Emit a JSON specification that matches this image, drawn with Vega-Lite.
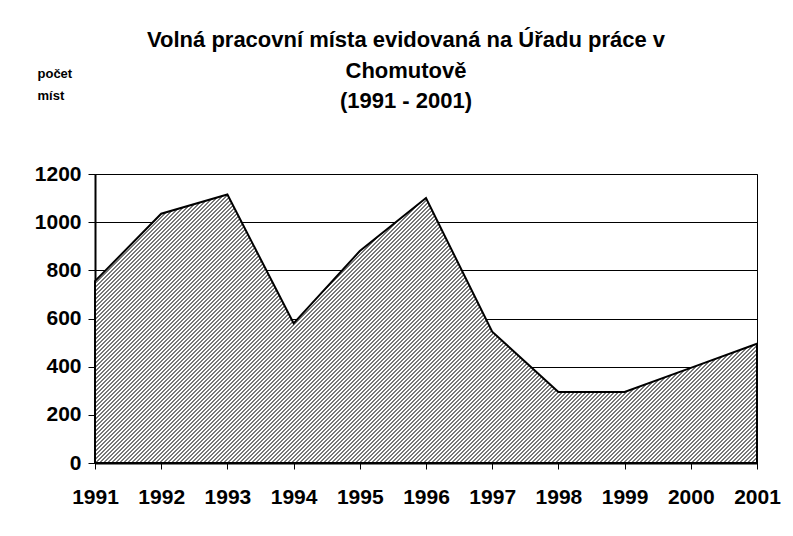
{
"$schema":"https://vega.github.io/schema/vega-lite/v6.json",
"width":662,"height":289,
"autosize":"none",
"padding":{"left":95,"top":174,"right":36,"bottom":73},
"background":"white",
"config":{"font":"Liberation Sans","view":{"stroke":"#000","strokeWidth":1}},
"title":{"text":["Volná pracovní místa evidovaná na Úřadu práce v","Chomutově","(1991 -  2001)"],"font":"Liberation Sans","fontSize":22,"fontWeight":"bold","color":"#000","lineHeight":30.5,"anchor":"middle","frame":"group","baseline":"alphabetic","dx":-20,"dy":67},
"data":{"values":[
{"year":"1991","count":755},
{"year":"1992","count":1035},
{"year":"1993","count":1115},
{"year":"1994","count":580},
{"year":"1995","count":880},
{"year":"1996","count":1100},
{"year":"1997","count":545},
{"year":"1998","count":295},
{"year":"1999","count":295},
{"year":"2000","count":395},
{"year":"2001","count":495}
]},
"mark":{"type":"area","stroke":"#000","strokeWidth":2,"strokeJoin":"miter","fill":{"gradient":"linear","x1":0,"y1":0,"x2":1.29714,"y2":0.526163,"stops":[
{"offset":0,"color":"#777"},
{"offset":0.002,"color":"#777"},{"offset":0.002,"color":"#fff"},{"offset":0.004,"color":"#fff"},{"offset":0.004,"color":"#777"},{"offset":0.006,"color":"#777"},{"offset":0.006,"color":"#fff"},{"offset":0.008,"color":"#fff"},{"offset":0.008,"color":"#777"},{"offset":0.010,"color":"#777"},{"offset":0.010,"color":"#fff"},{"offset":0.012,"color":"#fff"},{"offset":0.012,"color":"#777"},{"offset":0.014,"color":"#777"},{"offset":0.014,"color":"#fff"},{"offset":0.016,"color":"#fff"},{"offset":0.016,"color":"#777"},{"offset":0.018,"color":"#777"},{"offset":0.018,"color":"#fff"},{"offset":0.020,"color":"#fff"},{"offset":0.020,"color":"#777"},
{"offset":0.022,"color":"#777"},{"offset":0.022,"color":"#fff"},{"offset":0.024,"color":"#fff"},{"offset":0.024,"color":"#777"},{"offset":0.026,"color":"#777"},{"offset":0.026,"color":"#fff"},{"offset":0.028,"color":"#fff"},{"offset":0.028,"color":"#777"},{"offset":0.030,"color":"#777"},{"offset":0.030,"color":"#fff"},{"offset":0.032,"color":"#fff"},{"offset":0.032,"color":"#777"},{"offset":0.034,"color":"#777"},{"offset":0.034,"color":"#fff"},{"offset":0.036,"color":"#fff"},{"offset":0.036,"color":"#777"},{"offset":0.038,"color":"#777"},{"offset":0.038,"color":"#fff"},{"offset":0.040,"color":"#fff"},{"offset":0.040,"color":"#777"},
{"offset":0.042,"color":"#777"},{"offset":0.042,"color":"#fff"},{"offset":0.044,"color":"#fff"},{"offset":0.044,"color":"#777"},{"offset":0.046,"color":"#777"},{"offset":0.046,"color":"#fff"},{"offset":0.048,"color":"#fff"},{"offset":0.048,"color":"#777"},{"offset":0.050,"color":"#777"},{"offset":0.050,"color":"#fff"},{"offset":0.052,"color":"#fff"},{"offset":0.052,"color":"#777"},{"offset":0.054,"color":"#777"},{"offset":0.054,"color":"#fff"},{"offset":0.056,"color":"#fff"},{"offset":0.056,"color":"#777"},{"offset":0.058,"color":"#777"},{"offset":0.058,"color":"#fff"},{"offset":0.060,"color":"#fff"},{"offset":0.060,"color":"#777"},
{"offset":0.062,"color":"#777"},{"offset":0.062,"color":"#fff"},{"offset":0.064,"color":"#fff"},{"offset":0.064,"color":"#777"},{"offset":0.066,"color":"#777"},{"offset":0.066,"color":"#fff"},{"offset":0.068,"color":"#fff"},{"offset":0.068,"color":"#777"},{"offset":0.070,"color":"#777"},{"offset":0.070,"color":"#fff"},{"offset":0.072,"color":"#fff"},{"offset":0.072,"color":"#777"},{"offset":0.074,"color":"#777"},{"offset":0.074,"color":"#fff"},{"offset":0.076,"color":"#fff"},{"offset":0.076,"color":"#777"},{"offset":0.078,"color":"#777"},{"offset":0.078,"color":"#fff"},{"offset":0.080,"color":"#fff"},{"offset":0.080,"color":"#777"},
{"offset":0.082,"color":"#777"},{"offset":0.082,"color":"#fff"},{"offset":0.084,"color":"#fff"},{"offset":0.084,"color":"#777"},{"offset":0.086,"color":"#777"},{"offset":0.086,"color":"#fff"},{"offset":0.088,"color":"#fff"},{"offset":0.088,"color":"#777"},{"offset":0.090,"color":"#777"},{"offset":0.090,"color":"#fff"},{"offset":0.092,"color":"#fff"},{"offset":0.092,"color":"#777"},{"offset":0.094,"color":"#777"},{"offset":0.094,"color":"#fff"},{"offset":0.096,"color":"#fff"},{"offset":0.096,"color":"#777"},{"offset":0.098,"color":"#777"},{"offset":0.098,"color":"#fff"},{"offset":0.100,"color":"#fff"},{"offset":0.100,"color":"#777"},
{"offset":0.102,"color":"#777"},{"offset":0.102,"color":"#fff"},{"offset":0.104,"color":"#fff"},{"offset":0.104,"color":"#777"},{"offset":0.106,"color":"#777"},{"offset":0.106,"color":"#fff"},{"offset":0.108,"color":"#fff"},{"offset":0.108,"color":"#777"},{"offset":0.110,"color":"#777"},{"offset":0.110,"color":"#fff"},{"offset":0.112,"color":"#fff"},{"offset":0.112,"color":"#777"},{"offset":0.114,"color":"#777"},{"offset":0.114,"color":"#fff"},{"offset":0.116,"color":"#fff"},{"offset":0.116,"color":"#777"},{"offset":0.118,"color":"#777"},{"offset":0.118,"color":"#fff"},{"offset":0.120,"color":"#fff"},{"offset":0.120,"color":"#777"},
{"offset":0.122,"color":"#777"},{"offset":0.122,"color":"#fff"},{"offset":0.124,"color":"#fff"},{"offset":0.124,"color":"#777"},{"offset":0.126,"color":"#777"},{"offset":0.126,"color":"#fff"},{"offset":0.128,"color":"#fff"},{"offset":0.128,"color":"#777"},{"offset":0.130,"color":"#777"},{"offset":0.130,"color":"#fff"},{"offset":0.132,"color":"#fff"},{"offset":0.132,"color":"#777"},{"offset":0.134,"color":"#777"},{"offset":0.134,"color":"#fff"},{"offset":0.136,"color":"#fff"},{"offset":0.136,"color":"#777"},{"offset":0.138,"color":"#777"},{"offset":0.138,"color":"#fff"},{"offset":0.140,"color":"#fff"},{"offset":0.140,"color":"#777"},
{"offset":0.142,"color":"#777"},{"offset":0.142,"color":"#fff"},{"offset":0.144,"color":"#fff"},{"offset":0.144,"color":"#777"},{"offset":0.146,"color":"#777"},{"offset":0.146,"color":"#fff"},{"offset":0.148,"color":"#fff"},{"offset":0.148,"color":"#777"},{"offset":0.150,"color":"#777"},{"offset":0.150,"color":"#fff"},{"offset":0.152,"color":"#fff"},{"offset":0.152,"color":"#777"},{"offset":0.154,"color":"#777"},{"offset":0.154,"color":"#fff"},{"offset":0.156,"color":"#fff"},{"offset":0.156,"color":"#777"},{"offset":0.158,"color":"#777"},{"offset":0.158,"color":"#fff"},{"offset":0.160,"color":"#fff"},{"offset":0.160,"color":"#777"},
{"offset":0.162,"color":"#777"},{"offset":0.162,"color":"#fff"},{"offset":0.164,"color":"#fff"},{"offset":0.164,"color":"#777"},{"offset":0.166,"color":"#777"},{"offset":0.166,"color":"#fff"},{"offset":0.168,"color":"#fff"},{"offset":0.168,"color":"#777"},{"offset":0.170,"color":"#777"},{"offset":0.170,"color":"#fff"},{"offset":0.172,"color":"#fff"},{"offset":0.172,"color":"#777"},{"offset":0.174,"color":"#777"},{"offset":0.174,"color":"#fff"},{"offset":0.176,"color":"#fff"},{"offset":0.176,"color":"#777"},{"offset":0.178,"color":"#777"},{"offset":0.178,"color":"#fff"},{"offset":0.180,"color":"#fff"},{"offset":0.180,"color":"#777"},
{"offset":0.182,"color":"#777"},{"offset":0.182,"color":"#fff"},{"offset":0.184,"color":"#fff"},{"offset":0.184,"color":"#777"},{"offset":0.186,"color":"#777"},{"offset":0.186,"color":"#fff"},{"offset":0.188,"color":"#fff"},{"offset":0.188,"color":"#777"},{"offset":0.190,"color":"#777"},{"offset":0.190,"color":"#fff"},{"offset":0.192,"color":"#fff"},{"offset":0.192,"color":"#777"},{"offset":0.194,"color":"#777"},{"offset":0.194,"color":"#fff"},{"offset":0.196,"color":"#fff"},{"offset":0.196,"color":"#777"},{"offset":0.198,"color":"#777"},{"offset":0.198,"color":"#fff"},{"offset":0.200,"color":"#fff"},{"offset":0.200,"color":"#777"},
{"offset":0.202,"color":"#777"},{"offset":0.202,"color":"#fff"},{"offset":0.204,"color":"#fff"},{"offset":0.204,"color":"#777"},{"offset":0.206,"color":"#777"},{"offset":0.206,"color":"#fff"},{"offset":0.208,"color":"#fff"},{"offset":0.208,"color":"#777"},{"offset":0.210,"color":"#777"},{"offset":0.210,"color":"#fff"},{"offset":0.212,"color":"#fff"},{"offset":0.212,"color":"#777"},{"offset":0.214,"color":"#777"},{"offset":0.214,"color":"#fff"},{"offset":0.216,"color":"#fff"},{"offset":0.216,"color":"#777"},{"offset":0.218,"color":"#777"},{"offset":0.218,"color":"#fff"},{"offset":0.220,"color":"#fff"},{"offset":0.220,"color":"#777"},
{"offset":0.222,"color":"#777"},{"offset":0.222,"color":"#fff"},{"offset":0.224,"color":"#fff"},{"offset":0.224,"color":"#777"},{"offset":0.226,"color":"#777"},{"offset":0.226,"color":"#fff"},{"offset":0.228,"color":"#fff"},{"offset":0.228,"color":"#777"},{"offset":0.230,"color":"#777"},{"offset":0.230,"color":"#fff"},{"offset":0.232,"color":"#fff"},{"offset":0.232,"color":"#777"},{"offset":0.234,"color":"#777"},{"offset":0.234,"color":"#fff"},{"offset":0.236,"color":"#fff"},{"offset":0.236,"color":"#777"},{"offset":0.238,"color":"#777"},{"offset":0.238,"color":"#fff"},{"offset":0.240,"color":"#fff"},{"offset":0.240,"color":"#777"},
{"offset":0.242,"color":"#777"},{"offset":0.242,"color":"#fff"},{"offset":0.244,"color":"#fff"},{"offset":0.244,"color":"#777"},{"offset":0.246,"color":"#777"},{"offset":0.246,"color":"#fff"},{"offset":0.248,"color":"#fff"},{"offset":0.248,"color":"#777"},{"offset":0.250,"color":"#777"},{"offset":0.250,"color":"#fff"},{"offset":0.252,"color":"#fff"},{"offset":0.252,"color":"#777"},{"offset":0.254,"color":"#777"},{"offset":0.254,"color":"#fff"},{"offset":0.256,"color":"#fff"},{"offset":0.256,"color":"#777"},{"offset":0.258,"color":"#777"},{"offset":0.258,"color":"#fff"},{"offset":0.260,"color":"#fff"},{"offset":0.260,"color":"#777"},
{"offset":0.262,"color":"#777"},{"offset":0.262,"color":"#fff"},{"offset":0.264,"color":"#fff"},{"offset":0.264,"color":"#777"},{"offset":0.266,"color":"#777"},{"offset":0.266,"color":"#fff"},{"offset":0.268,"color":"#fff"},{"offset":0.268,"color":"#777"},{"offset":0.270,"color":"#777"},{"offset":0.270,"color":"#fff"},{"offset":0.272,"color":"#fff"},{"offset":0.272,"color":"#777"},{"offset":0.274,"color":"#777"},{"offset":0.274,"color":"#fff"},{"offset":0.276,"color":"#fff"},{"offset":0.276,"color":"#777"},{"offset":0.278,"color":"#777"},{"offset":0.278,"color":"#fff"},{"offset":0.280,"color":"#fff"},{"offset":0.280,"color":"#777"},
{"offset":0.282,"color":"#777"},{"offset":0.282,"color":"#fff"},{"offset":0.284,"color":"#fff"},{"offset":0.284,"color":"#777"},{"offset":0.286,"color":"#777"},{"offset":0.286,"color":"#fff"},{"offset":0.288,"color":"#fff"},{"offset":0.288,"color":"#777"},{"offset":0.290,"color":"#777"},{"offset":0.290,"color":"#fff"},{"offset":0.292,"color":"#fff"},{"offset":0.292,"color":"#777"},{"offset":0.294,"color":"#777"},{"offset":0.294,"color":"#fff"},{"offset":0.296,"color":"#fff"},{"offset":0.296,"color":"#777"},{"offset":0.298,"color":"#777"},{"offset":0.298,"color":"#fff"},{"offset":0.300,"color":"#fff"},{"offset":0.300,"color":"#777"},
{"offset":0.302,"color":"#777"},{"offset":0.302,"color":"#fff"},{"offset":0.304,"color":"#fff"},{"offset":0.304,"color":"#777"},{"offset":0.306,"color":"#777"},{"offset":0.306,"color":"#fff"},{"offset":0.308,"color":"#fff"},{"offset":0.308,"color":"#777"},{"offset":0.310,"color":"#777"},{"offset":0.310,"color":"#fff"},{"offset":0.312,"color":"#fff"},{"offset":0.312,"color":"#777"},{"offset":0.314,"color":"#777"},{"offset":0.314,"color":"#fff"},{"offset":0.316,"color":"#fff"},{"offset":0.316,"color":"#777"},{"offset":0.318,"color":"#777"},{"offset":0.318,"color":"#fff"},{"offset":0.320,"color":"#fff"},{"offset":0.320,"color":"#777"},
{"offset":0.322,"color":"#777"},{"offset":0.322,"color":"#fff"},{"offset":0.324,"color":"#fff"},{"offset":0.324,"color":"#777"},{"offset":0.326,"color":"#777"},{"offset":0.326,"color":"#fff"},{"offset":0.328,"color":"#fff"},{"offset":0.328,"color":"#777"},{"offset":0.330,"color":"#777"},{"offset":0.330,"color":"#fff"},{"offset":0.332,"color":"#fff"},{"offset":0.332,"color":"#777"},{"offset":0.334,"color":"#777"},{"offset":0.334,"color":"#fff"},{"offset":0.336,"color":"#fff"},{"offset":0.336,"color":"#777"},{"offset":0.338,"color":"#777"},{"offset":0.338,"color":"#fff"},{"offset":0.340,"color":"#fff"},{"offset":0.340,"color":"#777"},
{"offset":0.342,"color":"#777"},{"offset":0.342,"color":"#fff"},{"offset":0.344,"color":"#fff"},{"offset":0.344,"color":"#777"},{"offset":0.346,"color":"#777"},{"offset":0.346,"color":"#fff"},{"offset":0.348,"color":"#fff"},{"offset":0.348,"color":"#777"},{"offset":0.350,"color":"#777"},{"offset":0.350,"color":"#fff"},{"offset":0.352,"color":"#fff"},{"offset":0.352,"color":"#777"},{"offset":0.354,"color":"#777"},{"offset":0.354,"color":"#fff"},{"offset":0.356,"color":"#fff"},{"offset":0.356,"color":"#777"},{"offset":0.358,"color":"#777"},{"offset":0.358,"color":"#fff"},{"offset":0.360,"color":"#fff"},{"offset":0.360,"color":"#777"},
{"offset":0.362,"color":"#777"},{"offset":0.362,"color":"#fff"},{"offset":0.364,"color":"#fff"},{"offset":0.364,"color":"#777"},{"offset":0.366,"color":"#777"},{"offset":0.366,"color":"#fff"},{"offset":0.368,"color":"#fff"},{"offset":0.368,"color":"#777"},{"offset":0.370,"color":"#777"},{"offset":0.370,"color":"#fff"},{"offset":0.372,"color":"#fff"},{"offset":0.372,"color":"#777"},{"offset":0.374,"color":"#777"},{"offset":0.374,"color":"#fff"},{"offset":0.376,"color":"#fff"},{"offset":0.376,"color":"#777"},{"offset":0.378,"color":"#777"},{"offset":0.378,"color":"#fff"},{"offset":0.380,"color":"#fff"},{"offset":0.380,"color":"#777"},
{"offset":0.382,"color":"#777"},{"offset":0.382,"color":"#fff"},{"offset":0.384,"color":"#fff"},{"offset":0.384,"color":"#777"},{"offset":0.386,"color":"#777"},{"offset":0.386,"color":"#fff"},{"offset":0.388,"color":"#fff"},{"offset":0.388,"color":"#777"},{"offset":0.390,"color":"#777"},{"offset":0.390,"color":"#fff"},{"offset":0.392,"color":"#fff"},{"offset":0.392,"color":"#777"},{"offset":0.394,"color":"#777"},{"offset":0.394,"color":"#fff"},{"offset":0.396,"color":"#fff"},{"offset":0.396,"color":"#777"},{"offset":0.398,"color":"#777"},{"offset":0.398,"color":"#fff"},{"offset":0.400,"color":"#fff"},{"offset":0.400,"color":"#777"},
{"offset":0.402,"color":"#777"},{"offset":0.402,"color":"#fff"},{"offset":0.404,"color":"#fff"},{"offset":0.404,"color":"#777"},{"offset":0.406,"color":"#777"},{"offset":0.406,"color":"#fff"},{"offset":0.408,"color":"#fff"},{"offset":0.408,"color":"#777"},{"offset":0.410,"color":"#777"},{"offset":0.410,"color":"#fff"},{"offset":0.412,"color":"#fff"},{"offset":0.412,"color":"#777"},{"offset":0.414,"color":"#777"},{"offset":0.414,"color":"#fff"},{"offset":0.416,"color":"#fff"},{"offset":0.416,"color":"#777"},{"offset":0.418,"color":"#777"},{"offset":0.418,"color":"#fff"},{"offset":0.420,"color":"#fff"},{"offset":0.420,"color":"#777"},
{"offset":0.422,"color":"#777"},{"offset":0.422,"color":"#fff"},{"offset":0.424,"color":"#fff"},{"offset":0.424,"color":"#777"},{"offset":0.426,"color":"#777"},{"offset":0.426,"color":"#fff"},{"offset":0.428,"color":"#fff"},{"offset":0.428,"color":"#777"},{"offset":0.430,"color":"#777"},{"offset":0.430,"color":"#fff"},{"offset":0.432,"color":"#fff"},{"offset":0.432,"color":"#777"},{"offset":0.434,"color":"#777"},{"offset":0.434,"color":"#fff"},{"offset":0.436,"color":"#fff"},{"offset":0.436,"color":"#777"},{"offset":0.438,"color":"#777"},{"offset":0.438,"color":"#fff"},{"offset":0.440,"color":"#fff"},{"offset":0.440,"color":"#777"},
{"offset":0.442,"color":"#777"},{"offset":0.442,"color":"#fff"},{"offset":0.444,"color":"#fff"},{"offset":0.444,"color":"#777"},{"offset":0.446,"color":"#777"},{"offset":0.446,"color":"#fff"},{"offset":0.448,"color":"#fff"},{"offset":0.448,"color":"#777"},{"offset":0.450,"color":"#777"},{"offset":0.450,"color":"#fff"},{"offset":0.452,"color":"#fff"},{"offset":0.452,"color":"#777"},{"offset":0.454,"color":"#777"},{"offset":0.454,"color":"#fff"},{"offset":0.456,"color":"#fff"},{"offset":0.456,"color":"#777"},{"offset":0.458,"color":"#777"},{"offset":0.458,"color":"#fff"},{"offset":0.460,"color":"#fff"},{"offset":0.460,"color":"#777"},
{"offset":0.462,"color":"#777"},{"offset":0.462,"color":"#fff"},{"offset":0.464,"color":"#fff"},{"offset":0.464,"color":"#777"},{"offset":0.466,"color":"#777"},{"offset":0.466,"color":"#fff"},{"offset":0.468,"color":"#fff"},{"offset":0.468,"color":"#777"},{"offset":0.470,"color":"#777"},{"offset":0.470,"color":"#fff"},{"offset":0.472,"color":"#fff"},{"offset":0.472,"color":"#777"},{"offset":0.474,"color":"#777"},{"offset":0.474,"color":"#fff"},{"offset":0.476,"color":"#fff"},{"offset":0.476,"color":"#777"},{"offset":0.478,"color":"#777"},{"offset":0.478,"color":"#fff"},{"offset":0.480,"color":"#fff"},{"offset":0.480,"color":"#777"},
{"offset":0.482,"color":"#777"},{"offset":0.482,"color":"#fff"},{"offset":0.484,"color":"#fff"},{"offset":0.484,"color":"#777"},{"offset":0.486,"color":"#777"},{"offset":0.486,"color":"#fff"},{"offset":0.488,"color":"#fff"},{"offset":0.488,"color":"#777"},{"offset":0.490,"color":"#777"},{"offset":0.490,"color":"#fff"},{"offset":0.492,"color":"#fff"},{"offset":0.492,"color":"#777"},{"offset":0.494,"color":"#777"},{"offset":0.494,"color":"#fff"},{"offset":0.496,"color":"#fff"},{"offset":0.496,"color":"#777"},{"offset":0.498,"color":"#777"},{"offset":0.498,"color":"#fff"},{"offset":0.500,"color":"#fff"},{"offset":0.500,"color":"#777"},
{"offset":0.502,"color":"#777"},{"offset":0.502,"color":"#fff"},{"offset":0.504,"color":"#fff"},{"offset":0.504,"color":"#777"},{"offset":0.506,"color":"#777"},{"offset":0.506,"color":"#fff"},{"offset":0.508,"color":"#fff"},{"offset":0.508,"color":"#777"},{"offset":0.510,"color":"#777"},{"offset":0.510,"color":"#fff"},{"offset":0.512,"color":"#fff"},{"offset":0.512,"color":"#777"},{"offset":0.514,"color":"#777"},{"offset":0.514,"color":"#fff"},{"offset":0.516,"color":"#fff"},{"offset":0.516,"color":"#777"},{"offset":0.518,"color":"#777"},{"offset":0.518,"color":"#fff"},{"offset":0.520,"color":"#fff"},{"offset":0.520,"color":"#777"},
{"offset":0.522,"color":"#777"},{"offset":0.522,"color":"#fff"},{"offset":0.524,"color":"#fff"},{"offset":0.524,"color":"#777"},{"offset":0.526,"color":"#777"},{"offset":0.526,"color":"#fff"},{"offset":0.528,"color":"#fff"},{"offset":0.528,"color":"#777"},{"offset":0.530,"color":"#777"},{"offset":0.530,"color":"#fff"},{"offset":0.532,"color":"#fff"},{"offset":0.532,"color":"#777"},{"offset":0.534,"color":"#777"},{"offset":0.534,"color":"#fff"},{"offset":0.536,"color":"#fff"},{"offset":0.536,"color":"#777"},{"offset":0.538,"color":"#777"},{"offset":0.538,"color":"#fff"},{"offset":0.540,"color":"#fff"},{"offset":0.540,"color":"#777"},
{"offset":0.542,"color":"#777"},{"offset":0.542,"color":"#fff"},{"offset":0.544,"color":"#fff"},{"offset":0.544,"color":"#777"},{"offset":0.546,"color":"#777"},{"offset":0.546,"color":"#fff"},{"offset":0.548,"color":"#fff"},{"offset":0.548,"color":"#777"},{"offset":0.550,"color":"#777"},{"offset":0.550,"color":"#fff"},{"offset":0.552,"color":"#fff"},{"offset":0.552,"color":"#777"},{"offset":0.554,"color":"#777"},{"offset":0.554,"color":"#fff"},{"offset":0.556,"color":"#fff"},{"offset":0.556,"color":"#777"},{"offset":0.558,"color":"#777"},{"offset":0.558,"color":"#fff"},{"offset":0.560,"color":"#fff"},{"offset":0.560,"color":"#777"},
{"offset":0.562,"color":"#777"},{"offset":0.562,"color":"#fff"},{"offset":0.564,"color":"#fff"},{"offset":0.564,"color":"#777"},{"offset":0.566,"color":"#777"},{"offset":0.566,"color":"#fff"},{"offset":0.568,"color":"#fff"},{"offset":0.568,"color":"#777"},{"offset":0.570,"color":"#777"},{"offset":0.570,"color":"#fff"},{"offset":0.572,"color":"#fff"},{"offset":0.572,"color":"#777"},{"offset":0.574,"color":"#777"},{"offset":0.574,"color":"#fff"},{"offset":0.576,"color":"#fff"},{"offset":0.576,"color":"#777"},{"offset":0.578,"color":"#777"},{"offset":0.578,"color":"#fff"},{"offset":0.580,"color":"#fff"},{"offset":0.580,"color":"#777"},
{"offset":0.582,"color":"#777"},{"offset":0.582,"color":"#fff"},{"offset":0.584,"color":"#fff"},{"offset":0.584,"color":"#777"},{"offset":0.586,"color":"#777"},{"offset":0.586,"color":"#fff"},{"offset":0.588,"color":"#fff"},{"offset":0.588,"color":"#777"},{"offset":0.590,"color":"#777"},{"offset":0.590,"color":"#fff"},{"offset":0.592,"color":"#fff"},{"offset":0.592,"color":"#777"},{"offset":0.594,"color":"#777"},{"offset":0.594,"color":"#fff"},{"offset":0.596,"color":"#fff"},{"offset":0.596,"color":"#777"},{"offset":0.598,"color":"#777"},{"offset":0.598,"color":"#fff"},{"offset":0.600,"color":"#fff"},{"offset":0.600,"color":"#777"},
{"offset":0.602,"color":"#777"},{"offset":0.602,"color":"#fff"},{"offset":0.604,"color":"#fff"},{"offset":0.604,"color":"#777"},{"offset":0.606,"color":"#777"},{"offset":0.606,"color":"#fff"},{"offset":0.608,"color":"#fff"},{"offset":0.608,"color":"#777"},{"offset":0.610,"color":"#777"},{"offset":0.610,"color":"#fff"},{"offset":0.612,"color":"#fff"},{"offset":0.612,"color":"#777"},{"offset":0.614,"color":"#777"},{"offset":0.614,"color":"#fff"},{"offset":0.616,"color":"#fff"},{"offset":0.616,"color":"#777"},{"offset":0.618,"color":"#777"},{"offset":0.618,"color":"#fff"},{"offset":0.620,"color":"#fff"},{"offset":0.620,"color":"#777"},
{"offset":0.622,"color":"#777"},{"offset":0.622,"color":"#fff"},{"offset":0.624,"color":"#fff"},{"offset":0.624,"color":"#777"},{"offset":0.626,"color":"#777"},{"offset":0.626,"color":"#fff"},{"offset":0.628,"color":"#fff"},{"offset":0.628,"color":"#777"},{"offset":0.630,"color":"#777"},{"offset":0.630,"color":"#fff"},{"offset":0.632,"color":"#fff"},{"offset":0.632,"color":"#777"},{"offset":0.634,"color":"#777"},{"offset":0.634,"color":"#fff"},{"offset":0.636,"color":"#fff"},{"offset":0.636,"color":"#777"},{"offset":0.638,"color":"#777"},{"offset":0.638,"color":"#fff"},{"offset":0.640,"color":"#fff"},{"offset":0.640,"color":"#777"},
{"offset":0.642,"color":"#777"},{"offset":0.642,"color":"#fff"},{"offset":0.644,"color":"#fff"},{"offset":0.644,"color":"#777"},{"offset":0.646,"color":"#777"},{"offset":0.646,"color":"#fff"},{"offset":0.648,"color":"#fff"},{"offset":0.648,"color":"#777"},{"offset":0.650,"color":"#777"},{"offset":0.650,"color":"#fff"},{"offset":0.652,"color":"#fff"},{"offset":0.652,"color":"#777"},{"offset":0.654,"color":"#777"},{"offset":0.654,"color":"#fff"},{"offset":0.656,"color":"#fff"},{"offset":0.656,"color":"#777"},{"offset":0.658,"color":"#777"},{"offset":0.658,"color":"#fff"},{"offset":0.660,"color":"#fff"},{"offset":0.660,"color":"#777"},
{"offset":0.662,"color":"#777"},{"offset":0.662,"color":"#fff"},{"offset":0.664,"color":"#fff"},{"offset":0.664,"color":"#777"},{"offset":0.666,"color":"#777"},{"offset":0.666,"color":"#fff"},{"offset":0.668,"color":"#fff"},{"offset":0.668,"color":"#777"},{"offset":0.670,"color":"#777"},{"offset":0.670,"color":"#fff"},{"offset":0.672,"color":"#fff"},{"offset":0.672,"color":"#777"},{"offset":0.674,"color":"#777"},{"offset":0.674,"color":"#fff"},{"offset":0.676,"color":"#fff"},{"offset":0.676,"color":"#777"},{"offset":0.678,"color":"#777"},{"offset":0.678,"color":"#fff"},{"offset":0.680,"color":"#fff"},{"offset":0.680,"color":"#777"},
{"offset":0.682,"color":"#777"},{"offset":0.682,"color":"#fff"},{"offset":0.684,"color":"#fff"},{"offset":0.684,"color":"#777"},{"offset":0.686,"color":"#777"},{"offset":0.686,"color":"#fff"},{"offset":0.688,"color":"#fff"},{"offset":0.688,"color":"#777"},{"offset":0.690,"color":"#777"},{"offset":0.690,"color":"#fff"},{"offset":0.692,"color":"#fff"},{"offset":0.692,"color":"#777"},{"offset":0.694,"color":"#777"},{"offset":0.694,"color":"#fff"},{"offset":0.696,"color":"#fff"},{"offset":0.696,"color":"#777"},{"offset":0.698,"color":"#777"},{"offset":0.698,"color":"#fff"},{"offset":0.700,"color":"#fff"},{"offset":0.700,"color":"#777"},
{"offset":0.702,"color":"#777"},{"offset":0.702,"color":"#fff"},{"offset":0.704,"color":"#fff"},{"offset":0.704,"color":"#777"},{"offset":0.706,"color":"#777"},{"offset":0.706,"color":"#fff"},{"offset":0.708,"color":"#fff"},{"offset":0.708,"color":"#777"},{"offset":0.710,"color":"#777"},{"offset":0.710,"color":"#fff"},{"offset":0.712,"color":"#fff"},{"offset":0.712,"color":"#777"},{"offset":0.714,"color":"#777"},{"offset":0.714,"color":"#fff"},{"offset":0.716,"color":"#fff"},{"offset":0.716,"color":"#777"},{"offset":0.718,"color":"#777"},{"offset":0.718,"color":"#fff"},{"offset":0.720,"color":"#fff"},{"offset":0.720,"color":"#777"},
{"offset":0.722,"color":"#777"},{"offset":0.722,"color":"#fff"},{"offset":0.724,"color":"#fff"},{"offset":0.724,"color":"#777"},{"offset":0.726,"color":"#777"},{"offset":0.726,"color":"#fff"},{"offset":0.728,"color":"#fff"},{"offset":0.728,"color":"#777"},{"offset":0.730,"color":"#777"},{"offset":0.730,"color":"#fff"},{"offset":0.732,"color":"#fff"},{"offset":0.732,"color":"#777"},{"offset":0.734,"color":"#777"},{"offset":0.734,"color":"#fff"},{"offset":0.736,"color":"#fff"},{"offset":0.736,"color":"#777"},{"offset":0.738,"color":"#777"},{"offset":0.738,"color":"#fff"},{"offset":0.740,"color":"#fff"},{"offset":0.740,"color":"#777"},
{"offset":0.742,"color":"#777"},{"offset":0.742,"color":"#fff"},{"offset":0.744,"color":"#fff"},{"offset":0.744,"color":"#777"},{"offset":0.746,"color":"#777"},{"offset":0.746,"color":"#fff"},{"offset":0.748,"color":"#fff"},{"offset":0.748,"color":"#777"},{"offset":0.750,"color":"#777"},{"offset":0.750,"color":"#fff"},{"offset":0.752,"color":"#fff"},{"offset":0.752,"color":"#777"},{"offset":0.754,"color":"#777"},{"offset":0.754,"color":"#fff"},{"offset":0.756,"color":"#fff"},{"offset":0.756,"color":"#777"},{"offset":0.758,"color":"#777"},{"offset":0.758,"color":"#fff"},{"offset":0.760,"color":"#fff"},{"offset":0.760,"color":"#777"},
{"offset":0.762,"color":"#777"},{"offset":0.762,"color":"#fff"},{"offset":0.764,"color":"#fff"},{"offset":0.764,"color":"#777"},{"offset":0.766,"color":"#777"},{"offset":0.766,"color":"#fff"},{"offset":0.768,"color":"#fff"},{"offset":0.768,"color":"#777"},{"offset":0.770,"color":"#777"},{"offset":0.770,"color":"#fff"},{"offset":0.772,"color":"#fff"},{"offset":0.772,"color":"#777"},{"offset":0.774,"color":"#777"},{"offset":0.774,"color":"#fff"},{"offset":0.776,"color":"#fff"},{"offset":0.776,"color":"#777"},{"offset":0.778,"color":"#777"},{"offset":0.778,"color":"#fff"},{"offset":0.780,"color":"#fff"},{"offset":0.780,"color":"#777"},
{"offset":0.782,"color":"#777"},{"offset":0.782,"color":"#fff"},{"offset":0.784,"color":"#fff"},{"offset":0.784,"color":"#777"},{"offset":0.786,"color":"#777"},{"offset":0.786,"color":"#fff"},{"offset":0.788,"color":"#fff"},{"offset":0.788,"color":"#777"},{"offset":0.790,"color":"#777"},{"offset":0.790,"color":"#fff"},{"offset":0.792,"color":"#fff"},{"offset":0.792,"color":"#777"},{"offset":0.794,"color":"#777"},{"offset":0.794,"color":"#fff"},{"offset":0.796,"color":"#fff"},{"offset":0.796,"color":"#777"},{"offset":0.798,"color":"#777"},{"offset":0.798,"color":"#fff"},{"offset":0.800,"color":"#fff"},{"offset":0.800,"color":"#777"},
{"offset":0.802,"color":"#777"},{"offset":0.802,"color":"#fff"},{"offset":0.804,"color":"#fff"},{"offset":0.804,"color":"#777"},{"offset":0.806,"color":"#777"},{"offset":0.806,"color":"#fff"},{"offset":0.808,"color":"#fff"},{"offset":0.808,"color":"#777"},{"offset":0.810,"color":"#777"},{"offset":0.810,"color":"#fff"},{"offset":0.812,"color":"#fff"},{"offset":0.812,"color":"#777"},{"offset":0.814,"color":"#777"},{"offset":0.814,"color":"#fff"},{"offset":0.816,"color":"#fff"},{"offset":0.816,"color":"#777"},{"offset":0.818,"color":"#777"},{"offset":0.818,"color":"#fff"},{"offset":0.820,"color":"#fff"},{"offset":0.820,"color":"#777"},
{"offset":0.822,"color":"#777"},{"offset":0.822,"color":"#fff"},{"offset":0.824,"color":"#fff"},{"offset":0.824,"color":"#777"},{"offset":0.826,"color":"#777"},{"offset":0.826,"color":"#fff"},{"offset":0.828,"color":"#fff"},{"offset":0.828,"color":"#777"},{"offset":0.830,"color":"#777"},{"offset":0.830,"color":"#fff"},{"offset":0.832,"color":"#fff"},{"offset":0.832,"color":"#777"},{"offset":0.834,"color":"#777"},{"offset":0.834,"color":"#fff"},{"offset":0.836,"color":"#fff"},{"offset":0.836,"color":"#777"},{"offset":0.838,"color":"#777"},{"offset":0.838,"color":"#fff"},{"offset":0.840,"color":"#fff"},{"offset":0.840,"color":"#777"},
{"offset":0.842,"color":"#777"},{"offset":0.842,"color":"#fff"},{"offset":0.844,"color":"#fff"},{"offset":0.844,"color":"#777"},{"offset":0.846,"color":"#777"},{"offset":0.846,"color":"#fff"},{"offset":0.848,"color":"#fff"},{"offset":0.848,"color":"#777"},{"offset":0.850,"color":"#777"},{"offset":0.850,"color":"#fff"},{"offset":0.852,"color":"#fff"},{"offset":0.852,"color":"#777"},{"offset":0.854,"color":"#777"},{"offset":0.854,"color":"#fff"},{"offset":0.856,"color":"#fff"},{"offset":0.856,"color":"#777"},{"offset":0.858,"color":"#777"},{"offset":0.858,"color":"#fff"},{"offset":0.860,"color":"#fff"},{"offset":0.860,"color":"#777"},
{"offset":0.862,"color":"#777"},{"offset":0.862,"color":"#fff"},{"offset":0.864,"color":"#fff"},{"offset":0.864,"color":"#777"},{"offset":0.866,"color":"#777"},{"offset":0.866,"color":"#fff"},{"offset":0.868,"color":"#fff"},{"offset":0.868,"color":"#777"},{"offset":0.870,"color":"#777"},{"offset":0.870,"color":"#fff"},{"offset":0.872,"color":"#fff"},{"offset":0.872,"color":"#777"},{"offset":0.874,"color":"#777"},{"offset":0.874,"color":"#fff"},{"offset":0.876,"color":"#fff"},{"offset":0.876,"color":"#777"},{"offset":0.878,"color":"#777"},{"offset":0.878,"color":"#fff"},{"offset":0.880,"color":"#fff"},{"offset":0.880,"color":"#777"},
{"offset":0.882,"color":"#777"},{"offset":0.882,"color":"#fff"},{"offset":0.884,"color":"#fff"},{"offset":0.884,"color":"#777"},{"offset":0.886,"color":"#777"},{"offset":0.886,"color":"#fff"},{"offset":0.888,"color":"#fff"},{"offset":0.888,"color":"#777"},{"offset":0.890,"color":"#777"},{"offset":0.890,"color":"#fff"},{"offset":0.892,"color":"#fff"},{"offset":0.892,"color":"#777"},{"offset":0.894,"color":"#777"},{"offset":0.894,"color":"#fff"},{"offset":0.896,"color":"#fff"},{"offset":0.896,"color":"#777"},{"offset":0.898,"color":"#777"},{"offset":0.898,"color":"#fff"},{"offset":0.900,"color":"#fff"},{"offset":0.900,"color":"#777"},
{"offset":0.902,"color":"#777"},{"offset":0.902,"color":"#fff"},{"offset":0.904,"color":"#fff"},{"offset":0.904,"color":"#777"},{"offset":0.906,"color":"#777"},{"offset":0.906,"color":"#fff"},{"offset":0.908,"color":"#fff"},{"offset":0.908,"color":"#777"},{"offset":0.910,"color":"#777"},{"offset":0.910,"color":"#fff"},{"offset":0.912,"color":"#fff"},{"offset":0.912,"color":"#777"},{"offset":0.914,"color":"#777"},{"offset":0.914,"color":"#fff"},{"offset":0.916,"color":"#fff"},{"offset":0.916,"color":"#777"},{"offset":0.918,"color":"#777"},{"offset":0.918,"color":"#fff"},{"offset":0.920,"color":"#fff"},{"offset":0.920,"color":"#777"},
{"offset":0.922,"color":"#777"},{"offset":0.922,"color":"#fff"},{"offset":0.924,"color":"#fff"},{"offset":0.924,"color":"#777"},{"offset":0.926,"color":"#777"},{"offset":0.926,"color":"#fff"},{"offset":0.928,"color":"#fff"},{"offset":0.928,"color":"#777"},{"offset":0.930,"color":"#777"},{"offset":0.930,"color":"#fff"},{"offset":0.932,"color":"#fff"},{"offset":0.932,"color":"#777"},{"offset":1,"color":"#777"}
]}},
"encoding":{
"x":{"field":"year","type":"ordinal","sort":null,"scale":{"type":"point","padding":0},"axis":{"title":null,"labelAngle":0,"labelFont":"Liberation Sans","labelFontSize":21,"labelFontWeight":"bold","labelColor":"#000","labelPadding":17,"tickSize":6,"tickColor":"#000","tickWidth":1,"domainColor":"#000","domainWidth":2,"grid":false,"labelOverlap":false,"labelFlush":false}},
"y":{"field":"count","type":"quantitative","scale":{"domain":[0,1200],"nice":false,"zero":true},"axis":{"values":[0,200,400,600,800,1000,1200],"format":"d","title":["počet","míst"],"titleAngle":0,"titleX":-58,"titleY":-97,"titleAlign":"left","titleBaseline":"alphabetic","titleFont":"Liberation Sans","titleFontSize":13,"titleFontWeight":"bold","titleColor":"#000","titleLineHeight":22,"labelFont":"Liberation Sans","labelFontSize":21,"labelFontWeight":"bold","labelColor":"#000","labelPadding":7,"tickSize":7,"tickColor":"#000","tickWidth":1,"domainColor":"#000","domainWidth":2,"grid":true,"gridColor":"#000","gridWidth":1,"labelFlush":false,"labelOverlap":false}}
}
}
